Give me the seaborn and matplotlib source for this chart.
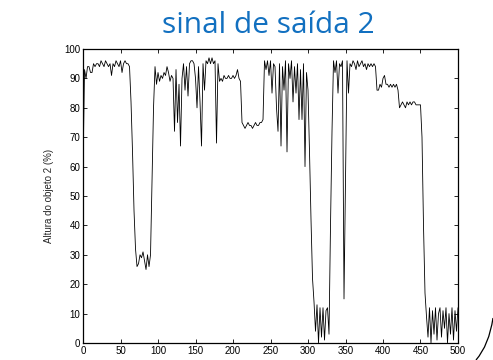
import numpy as np
import pandas as pd
import matplotlib
matplotlib.use("Agg")
import matplotlib.pyplot as plt
from matplotlib.path import Path
from matplotlib.patches import PathPatch
import seaborn as sns

# Sample index (every 2 samples) and measured height of object 2 (%)
amostras = np.arange(0, 501, 2)
altura = [
    59, 93, 90, 94, 94, 92, 92, 95, 94, 95,
    95, 94, 96, 95, 94, 96, 95, 94, 95, 91,
    95, 94, 96, 95, 94, 96, 92, 95, 96, 95,
    95, 94, 82, 65, 45, 32, 26, 27, 30, 29,
    31, 28, 25, 30, 26, 30, 55, 80, 94, 88,
    92, 89, 91, 90, 92, 91, 94, 92, 89, 91,
    90, 72, 93, 75, 88, 67, 90, 95, 86, 94,
    84, 95, 96, 96, 95, 90, 80, 94, 82, 67,
    95, 86, 96, 95, 97, 95, 97, 95, 96, 68,
    95, 89, 90, 89, 91, 90, 90, 91, 90, 90,
    91, 90, 91, 93, 90, 89, 75, 74, 73, 74,
    75, 74, 74, 73, 74, 75, 74, 74, 75, 75,
    76, 96, 93, 96, 91, 96, 85, 95, 94, 80,
    72, 95, 67, 94, 86, 96, 65, 95, 90, 96,
    82, 94, 85, 95, 76, 93, 76, 95, 60, 92,
    86, 65, 42, 22, 14, 4, 13, 0, 12, 2,
    12, 1, 11, 12, 3, 40, 72, 96, 92, 96,
    85, 95, 94, 96, 15, 56, 96, 85, 95, 94,
    96, 95, 93, 96, 94, 95, 96, 94, 95, 93,
    95, 94, 95, 94, 95, 94, 86, 86, 88, 87,
    90, 91, 88, 88, 87, 88, 87, 88, 87, 88,
    86, 80, 81, 82, 81, 80, 82, 81, 82, 81,
    82, 82, 81, 81, 81, 81, 70, 40, 17, 9,
    2, 12, 0, 11, 3, 12, 1, 10, 12, 2,
    11, 5, 12, 0, 10, 3, 12, 1, 11, 4,
    12,
]
x_ticks = [0, 50, 100, 150, 200, 250, 300, 350, 400, 450, 500]
y_ticks = [0, 10, 20, 30, 40, 50, 60, 70, 80, 90, 100]

titulo = "sinal de saída 2"
rotulo_y = "Altura do objeto 2 (%)"

sns.set_style("ticks")
plt.rcParams["font.family"] = ["Liberation Sans", "DejaVu Sans"]

df = pd.DataFrame({"amostra": amostras, "altura": altura})

fig = plt.figure(figsize=(4.93, 3.60), dpi=100)
ax = fig.add_axes([0.1684, 0.0472, 0.7606, 0.8167])

sns.lineplot(data=df, x="amostra", y="altura", color="black",
             linewidth=0.6, ax=ax)

ax.set_xlim(0, 500)
ax.set_ylim(0, 100)
ax.set_xticks(x_ticks)
ax.set_yticks(y_ticks)
ax.set_xlabel("")
ax.set_ylabel(rotulo_y, fontsize=7, labelpad=7)
ax.tick_params(direction="in", top=True, right=True, length=3, width=0.6,
               labelsize=7, pad=2, colors="black")
for s in ax.spines.values():
    s.set_visible(True)
    s.set_linewidth(0.9)
    s.set_color("black")

fig.text(0.545, 0.908, titulo, ha="center", va="baseline",
         fontsize=21.5, color="#1270c0", family=["Open Sans", "DejaVu Sans"])

# decorative arc in the lower right corner
verts = [(476 / 493, 0.0), (489 / 493, 1 - 345 / 360), (493 / 493, 1 - 318 / 360)]
arc = PathPatch(Path(verts, [Path.MOVETO, Path.CURVE3, Path.CURVE3]),
                transform=fig.transFigure, fill=False, edgecolor="black",
                linewidth=0.9)
fig.add_artist(arc)

fig.savefig("out.png", dpi=100)
